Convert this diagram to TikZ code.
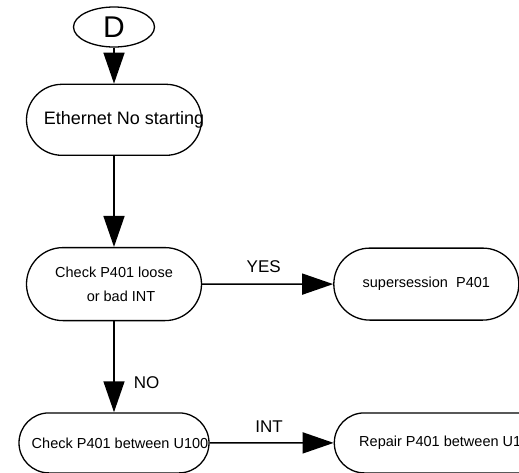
\documentclass[tikz,border=0pt]{standalone}
\usepackage{fontspec}
\setmainfont{Liberation Sans}
\usetikzlibrary{arrows.meta, positioning, shapes.geometric, shapes.misc}

\begin{document}
\begin{tikzpicture}[
  x=1pt, y=-1pt,
  node distance=91pt and 131pt,
  term/.style={ellipse, draw=black, line width=1.3pt, inner sep=0pt, minimum width=81pt, minimum height=40pt, font=\fontsize{30}{30}\selectfont},
  stadium/.style={rounded rectangle, draw=black, line width=1.3pt, fill=white, align=center, inner sep=0pt, font=\fontsize{14.5}{24}\selectfont},
  arrow/.style={-{Triangle[length=31pt, width=21pt]}, line width=1.6pt, draw=black},
  lbl/.style={inner sep=0pt, font=\fontsize{17}{17}\selectfont}
]
\useasboundingbox (0,0) rectangle (519,472);
\clip (0,0) rectangle (519,472);

\node[term] (d) at (114,27) {D};
\node[stadium, minimum width=175pt, minimum height=71pt, font=\fontsize{18}{20}\selectfont, below=36pt of d] (eth) {\makebox[0pt]{\hspace*{20pt}Ethernet No starting}};
\node[stadium, minimum width=175pt, minimum height=73pt, below=of eth] (chk) {\makebox[0pt]{Check P401 loose}\\\makebox[0pt]{\hspace*{14pt}or bad INT}};
\node[stadium, minimum width=185pt, minimum height=72pt, right=of chk] (sup) {\makebox[0pt]{supersession\ \ P401}};
\node[stadium, minimum width=190pt, minimum height=60pt, below=of chk] (chkb) {\makebox[0pt]{\hspace*{12pt}Check P401 between U100}};
\node[stadium, minimum width=228pt, minimum height=60pt, right=124pt of chkb] (rep) {\makebox[0pt]{Repair P401 between U100}};

\draw[arrow] (d) -- (eth);
\draw[arrow] (eth) -- (chk);
\draw[arrow] (chk) -- node[lbl, pos=0.47, above=11pt] {YES} (sup);
\draw[arrow] (chk) -- node[lbl, pos=0.68, right=19pt] {NO} (chkb);
\draw[arrow] (chkb) -- node[lbl, pos=0.48, above=10pt] {INT} (rep);
\end{tikzpicture}
\end{document}
